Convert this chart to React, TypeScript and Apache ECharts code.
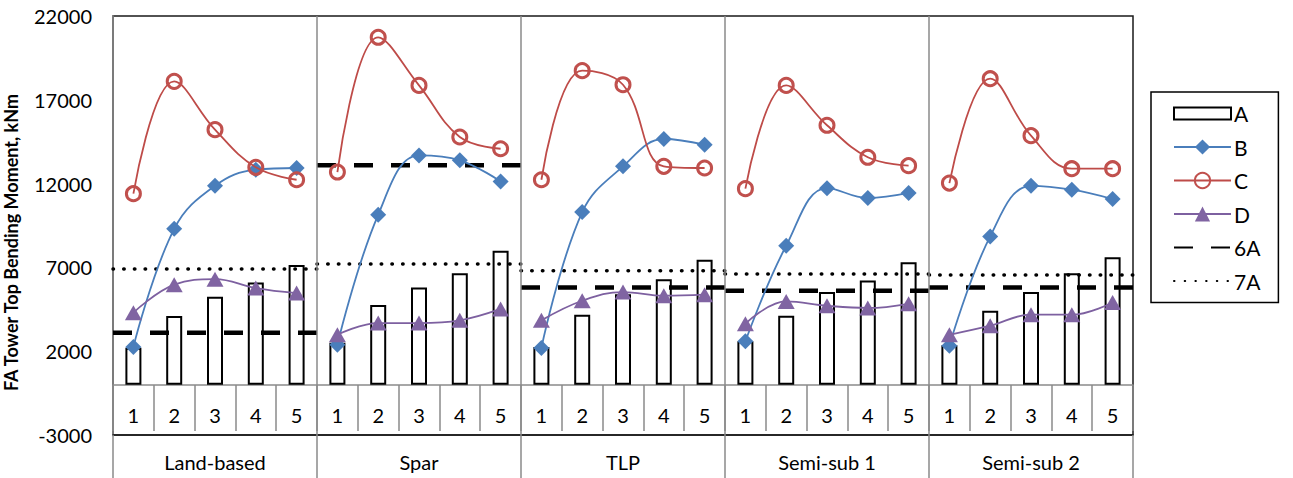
import React, { useEffect, useRef } from 'react';
import * as echarts from 'echarts';

const groups = ['Land-based', 'Spar', 'TLP', 'Semi-sub 1', 'Semi-sub 2'];
const cases = ['1', '2', '3', '4', '5'];

const valuesA = [
  [2200, 4100, 5250, 6100, 7150],
  [2500, 4750, 5800, 6650, 8000],
  [2250, 4180, 5400, 6300, 7450],
  [2600, 4120, 5530, 6220, 7300],
  [2350, 4420, 5530, 6650, 7600],
];
const valuesB = [
  [2250, 9300, 11870, 12830, 12930],
  [2390, 10140, 13680, 13390, 12130],
  [2190, 10300, 13030, 14660, 14320],
  [2590, 8290, 11730, 11140, 11440],
  [2330, 8850, 11870, 11640, 11080],
];
const valuesC = [
  [11400, 18100, 15220, 12970, 12230],
  [12690, 20730, 17860, 14780, 14080],
  [12230, 18740, 17900, 13030, 12930],
  [11700, 17860, 15480, 13570, 13070],
  [12030, 18260, 14860, 12890, 12890],
];
const valuesD = [
  [4300, 5970, 6300, 5770, 5470],
  [2980, 3680, 3680, 3840, 4520],
  [3840, 5010, 5530, 5310, 5370],
  [3640, 4970, 4710, 4580, 4830],
  [2980, 3520, 4180, 4180, 4910],
];
const level6A = [3100, 13100, 5800, 5600, 5800];
const level7A = [6900, 7200, 6800, 6600, 6550];

const yTicks = { min: -3000, max: 22000, interval: 5000 };

const FONT = 'Lato';

function toLine(vals: number[][]) {
  const out: any[] = [];
  vals.forEach((grp, g) => {
    grp.forEach((v, i) => out.push([g * 5 + i + 0.5, v]));
    out.push([g * 5 + 5, '-']);
  });
  return out;
}
function toLevel(levels: number[]) {
  const out: any[] = [];
  levels.forEach((v, g) => {
    out.push([g * 5, v]);
    out.push([g * 5 + 5, v]);
    out.push([g * 5 + 5, '-']);
  });
  return out;
}

export default function App() {
  const ref = useRef<HTMLDivElement>(null);
  useEffect(() => {
    document.body.style.margin = '0';
    const chart = echarts.init(ref.current!, null, { renderer: 'svg' });
    const catNames: string[] = [];
    groups.forEach((g) => cases.forEach((c) => catNames.push(g + '|' + c)));
    const gray = '#8a8a8a';
    const gridTop = 16;
    const gridHeight = 419;
    // offset of the case axis so that it sits on the value 0
    const zeroOffset = -Math.round(((0 - yTicks.min) / (yTicks.max - yTicks.min)) * gridHeight);
    const option: any = {
      animation: false,
      backgroundColor: '#fff',
      textStyle: { fontFamily: FONT, color: '#000' },
      grid: {
        left: 113, top: gridTop, width: 1020, height: gridHeight,
        containLabel: false, outerBoundsMode: 'none',
        show: true, borderColor: '#1a1a1a', borderWidth: 1.5, backgroundColor: 'transparent',
      },
      legend: {
        orient: 'vertical',
        left: 1151, top: 92,
        padding: [11, 18, 11, 22],
        borderColor: '#000', borderWidth: 1.5,
        itemWidth: 57, itemHeight: 19, itemGap: 12.5,
        textStyle: { fontSize: 21, fontFamily: FONT, color: '#000', lineHeight: 20, padding: [0, 0, 0, -2] },
        data: [
          { name: 'A', icon: 'path://M0,0h57v12h-57z' },
          'B', 'C', 'D',
          { name: '6A', itemStyle: { color: 'rgba(0,0,0,0)', borderWidth: 0 } },
          { name: '7A', itemStyle: { color: 'rgba(0,0,0,0)', borderWidth: 0 } },
        ],
      },
      xAxis: [
        {
          type: 'category', data: catNames, position: 'bottom', offset: zeroOffset,
          axisLine: { onZero: false, lineStyle: { color: gray, width: 1.5 } },
          axisTick: { show: true, interval: 0, length: 46, lineStyle: { color: gray, width: 1.5 } },
          axisLabel: {
            interval: 0, fontSize: 20, margin: 30, verticalAlign: 'middle', color: '#000', fontFamily: FONT,
            formatter: (v: string) => v.split('|')[1],
          },
          splitLine: { show: false },
        },
        {
          type: 'value', min: 0, max: 25, show: false, position: 'bottom',
          axisLine: { onZero: false },
        },
        {
          type: 'category', data: groups, position: 'bottom',
          axisLine: { onZero: false, lineStyle: { color: '#1a1a1a', width: 1.5 } },
          axisTick: { show: true, interval: 0, length: 43, lineStyle: { color: gray, width: 1.5 } },
          axisLabel: { interval: 0, fontSize: 20, margin: 27, verticalAlign: 'middle', color: '#000', fontFamily: FONT },
          splitLine: { show: false },
        },
      ],
      yAxis: {
        type: 'value', ...yTicks,
        axisLine: { show: true, onZero: false, lineStyle: { color: gray, width: 1.5 } },
        axisTick: { show: false },
        splitLine: { show: false },
        axisLabel: { fontSize: 20, color: '#000', margin: 21, fontFamily: FONT, formatter: (v: number) => String(v) },
        name: 'FA Tower Top Bending Moment, kNm',
        nameLocation: 'middle', nameGap: 93,
        nameTextStyle: { fontSize: 18, fontWeight: 'bold', color: '#000', fontFamily: FONT, padding: [0, 34, 0, 0] },
      },
      series: [
        {
          name: 'A', type: 'bar', xAxisIndex: 0, yAxisIndex: 0,
          data: valuesA.flat(), barWidth: 16, z: 2,
          itemStyle: { color: '#fff', borderColor: '#000', borderWidth: 2 },
        },
        {
          name: '6A', type: 'line', xAxisIndex: 1, data: toLevel(level6A), symbol: 'none', z: 3,
          lineStyle: { color: '#000', width: 4.5, type: [19, 18] },
          itemStyle: { color: 'rgba(0,0,0,0)' },
          markLine: {
            silent: true, symbol: 'none', label: { show: false },
            lineStyle: { color: gray, width: 1.5, type: 'solid' },
            data: [{ xAxis: 5 }, { xAxis: 10 }, { xAxis: 15 }, { xAxis: 20 }],
          },
        },
        {
          name: '7A', type: 'line', xAxisIndex: 1, data: toLevel(level7A), symbol: 'none', z: 3,
          lineStyle: { color: '#000', width: 3.5, type: [0.5, 10.2], cap: 'round' },
          itemStyle: { color: 'rgba(0,0,0,0)' },
        },
        {
          name: 'B', type: 'line', xAxisIndex: 1, data: toLine(valuesB), smooth: 0.4, z: 4,
          symbol: 'diamond', symbolSize: 16,
          lineStyle: { color: '#4A7EBB', width: 1.8 },
          itemStyle: { color: '#4A7EBB' },
        },
        {
          name: 'C', type: 'line', xAxisIndex: 1, data: toLine(valuesC), smooth: 0.4, z: 5,
          symbol: 'circle', symbolSize: 14,
          lineStyle: { color: '#BE4B48', width: 1.8 },
          itemStyle: { color: 'rgba(255,255,255,0)', borderColor: '#C0504D', borderWidth: 3 },
        },
        {
          name: 'D', type: 'line', xAxisIndex: 1, data: toLine(valuesD), smooth: 0.4, z: 4,
          symbol: 'triangle', symbolSize: [17, 15],
          lineStyle: { color: '#7D60A0', width: 1.8 },
          itemStyle: { color: '#8064A2' },
        },
      ],
    };
    chart.setOption(option);
    return () => chart.dispose();
  }, []);
  return <div ref={ref} style={{ width: 1293, height: 478 }} />;
}
